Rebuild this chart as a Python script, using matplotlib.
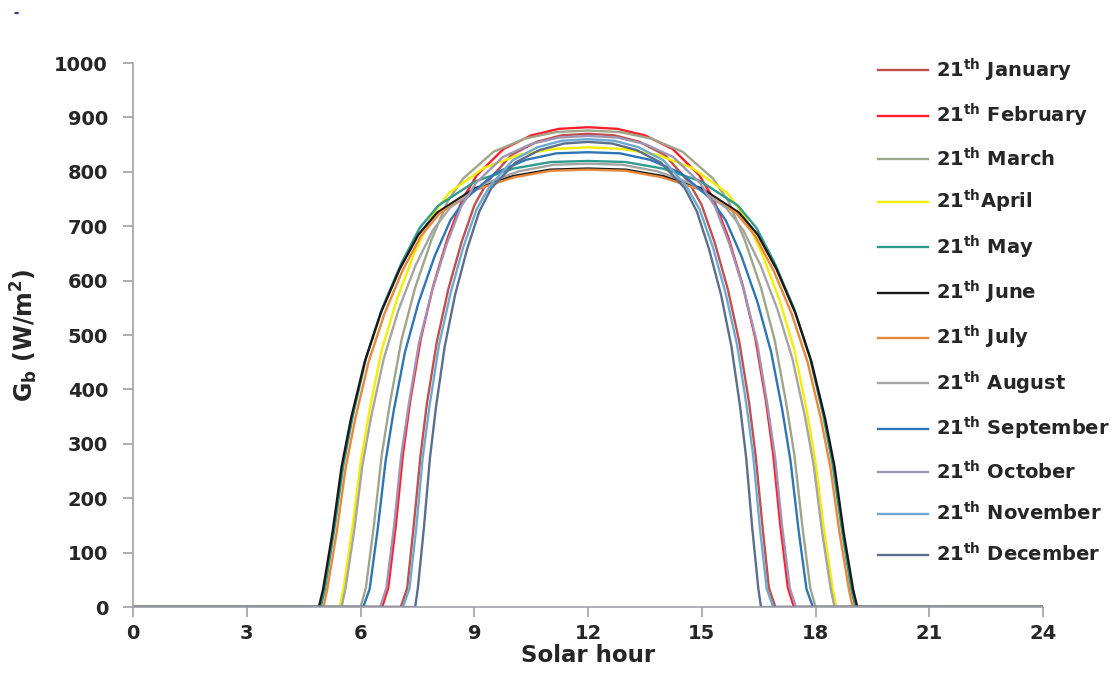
import matplotlib
matplotlib.use('Agg')
import matplotlib.pyplot as plt

# solar hour / beam irradiance, one pair of lists per month
jan_h = [0, 7.06, 7.23, 7.40, 7.58, 7.75, 8.01, 8.31, 8.66, 9.01, 9.36, 9.98, 10.64, 11.30, 12.0, 12.70, 13.36, 14.02, 14.64, 14.99, 15.34, 15.69, 15.99, 16.25, 16.42, 16.60, 16.77, 16.94, 24]
jan_v = [0, 0, 35, 148, 278, 374, 487, 583, 670, 740, 783, 831, 855, 867, 870, 867, 855, 831, 783, 740, 670, 583, 487, 374, 278, 148, 35, 0, 0]

feb_h = [0, 6.57, 6.73, 6.93, 7.12, 7.31, 7.59, 7.92, 8.30, 8.69, 9.07, 9.77, 10.50, 11.23, 12.0, 12.77, 13.50, 14.23, 14.93, 15.31, 15.70, 16.08, 16.41, 16.69, 16.88, 17.07, 17.27, 17.43, 24]
feb_v = [0, 0, 35, 150, 282, 379, 494, 591, 679, 750, 794, 842, 867, 879, 882, 879, 867, 842, 794, 750, 679, 591, 494, 379, 282, 150, 35, 0, 0]

mar_h = [0, 6.00, 6.14, 6.35, 6.56, 6.78, 7.08, 7.44, 7.87, 8.29, 8.71, 9.51, 10.33, 11.15, 12.0, 12.85, 13.67, 14.49, 15.29, 15.71, 16.13, 16.56, 16.92, 17.22, 17.44, 17.65, 17.86, 18.00, 24]
mar_v = [0, 0, 35, 149, 280, 377, 491, 587, 675, 745, 788, 837, 861, 873, 876, 873, 861, 837, 788, 745, 675, 587, 491, 377, 280, 149, 35, 0, 0]

apr_h = [0, 5.45, 5.55, 5.78, 6.01, 6.24, 6.56, 6.96, 7.42, 7.87, 8.33, 9.25, 10.17, 11.08, 12.0, 12.92, 13.83, 14.75, 15.67, 16.13, 16.58, 17.04, 17.44, 17.76, 17.99, 18.22, 18.45, 18.55, 24]
apr_v = [0, 0, 34, 144, 270, 363, 473, 566, 651, 718, 761, 807, 831, 842, 845, 842, 831, 807, 761, 718, 651, 566, 473, 363, 270, 144, 34, 0, 0]

may_h = [0, 4.95, 5.06, 5.30, 5.55, 5.80, 6.15, 6.57, 7.07, 7.56, 8.05, 9.04, 10.03, 11.01, 12.0, 12.99, 13.97, 14.96, 15.95, 16.44, 16.93, 17.43, 17.85, 18.20, 18.45, 18.70, 18.94, 19.05, 24]
may_v = [0, 0, 33, 139, 262, 353, 459, 549, 631, 697, 738, 783, 806, 818, 820, 818, 806, 783, 738, 697, 631, 549, 459, 353, 262, 139, 33, 0, 0]

jun_h = [0, 4.90, 5.01, 5.26, 5.50, 5.75, 6.11, 6.53, 7.03, 7.53, 8.02, 9.02, 10.01, 11.01, 12.0, 12.99, 13.99, 14.98, 15.98, 16.47, 16.97, 17.47, 17.89, 18.25, 18.50, 18.74, 18.99, 19.10, 24]
jun_v = [0, 0, 32, 137, 258, 347, 451, 540, 621, 685, 725, 770, 792, 804, 806, 804, 792, 770, 725, 685, 621, 540, 451, 347, 258, 137, 32, 0, 0]

jul_h = [0, 5.02, 5.12, 5.37, 5.61, 5.86, 6.21, 6.63, 7.11, 7.60, 8.09, 9.07, 10.05, 11.02, 12.0, 12.98, 13.95, 14.93, 15.91, 16.40, 16.89, 17.37, 17.79, 18.14, 18.39, 18.63, 18.88, 18.98, 24]
jul_v = [0, 0, 32, 137, 257, 346, 450, 539, 619, 683, 724, 768, 790, 802, 804, 802, 790, 768, 724, 683, 619, 539, 450, 346, 257, 137, 32, 0, 0]

aug_h = [0, 5.50, 5.60, 5.83, 6.05, 6.28, 6.61, 7.00, 7.45, 7.91, 8.36, 9.27, 10.18, 11.09, 12.0, 12.91, 13.82, 14.73, 15.64, 16.09, 16.55, 17.00, 17.39, 17.72, 17.95, 18.17, 18.40, 18.50, 24]
aug_v = [0, 0, 33, 139, 261, 350, 456, 546, 628, 693, 734, 778, 801, 813, 815, 813, 801, 778, 734, 693, 628, 546, 456, 350, 261, 139, 33, 0, 0]

sep_h = [0, 6.07, 6.24, 6.45, 6.66, 6.87, 7.17, 7.53, 7.95, 8.37, 8.79, 9.56, 10.36, 11.16, 12.0, 12.84, 13.64, 14.44, 15.21, 15.63, 16.05, 16.47, 16.83, 17.13, 17.34, 17.55, 17.76, 17.93, 24]
sep_v = [0, 0, 33, 142, 268, 359, 468, 560, 644, 711, 752, 798, 822, 834, 836, 834, 822, 798, 752, 711, 644, 560, 468, 359, 268, 142, 33, 0, 0]

oct_h = [0, 6.52, 6.68, 6.88, 7.07, 7.27, 7.54, 7.88, 8.27, 8.65, 9.04, 9.75, 10.49, 11.22, 12.0, 12.78, 13.51, 14.25, 14.96, 15.35, 15.73, 16.12, 16.46, 16.73, 16.93, 17.12, 17.32, 17.48, 24]
oct_v = [0, 0, 35, 147, 277, 372, 485, 580, 667, 736, 779, 827, 851, 863, 866, 863, 851, 827, 779, 736, 667, 580, 485, 372, 277, 147, 35, 0, 0]

nov_h = [0, 7.12, 7.29, 7.47, 7.64, 7.82, 8.07, 8.37, 8.71, 9.06, 9.41, 10.01, 10.66, 11.30, 12.0, 12.70, 13.34, 13.99, 14.59, 14.94, 15.29, 15.63, 15.93, 16.18, 16.36, 16.53, 16.71, 16.88, 24]
nov_v = [0, 0, 34, 146, 275, 370, 482, 576, 662, 731, 774, 821, 845, 857, 860, 857, 845, 821, 774, 731, 662, 576, 482, 370, 275, 146, 34, 0, 0]

dec_h = [0, 7.44, 7.51, 7.67, 7.83, 7.99, 8.22, 8.49, 8.81, 9.13, 9.45, 10.08, 10.72, 11.36, 12.0, 12.64, 13.28, 13.92, 14.55, 14.87, 15.19, 15.51, 15.78, 16.01, 16.17, 16.33, 16.49, 16.56, 24]
dec_v = [0, 0, 34, 145, 274, 368, 479, 573, 658, 727, 770, 817, 840, 852, 855, 852, 840, 817, 770, 727, 658, 573, 479, 368, 274, 145, 34, 0, 0]

months = ['January', 'February', 'March', 'April', 'May', 'June', 'July',
          'August', 'September', 'October', 'November', 'December']
hours = [jan_h, feb_h, mar_h, apr_h, may_h, jun_h, jul_h, aug_h, sep_h, oct_h, nov_h, dec_h]
values = [jan_v, feb_v, mar_v, apr_v, may_v, jun_v, jul_v, aug_v, sep_v, oct_v, nov_v, dec_v]
colors = ['#C0504D', '#FF1F2D', '#9EA68A', '#F5EE00', '#2E9C8C', '#1A1A1A',
          '#E8883A', '#A5A5A5', '#2E75B6', '#A195B5', '#6EA9D2', '#5A6E8E']

x_ticks = [0, 3, 6, 9, 12, 15, 18, 21, 24]
y_ticks = [0, 100, 200, 300, 400, 500, 600, 700, 800, 900, 1000]

plt.rcParams['font.family'] = 'DejaVu Sans'
plt.rcParams['font.weight'] = 'bold'
plt.rcParams['axes.labelweight'] = 'bold'
plt.rcParams['mathtext.default'] = 'bf'
txt = '#262626'
axc = '#A0A0A8'

fig = plt.figure(figsize=(11.18, 6.88), dpi=100)
ax = fig.add_axes([0.119, 0.1177, 0.814, 0.7907])

for h, v, c, m in zip(hours, values, colors, months):
    sep = '' if m == 'April' else ' '
    ax.plot(h, v, color=c, lw=1.7, label='21$^{th}$' + sep + m)

ax.set_xlim(0, 24)
ax.set_ylim(0, 1000)
ax.set_xticks(x_ticks)
ax.set_yticks(y_ticks)
ax.tick_params(axis='both', colors=axc, labelcolor=txt, labelsize=14,
               length=7, width=1.2, direction='out')
ax.tick_params(axis='y', pad=11)
ax.tick_params(axis='x', pad=5)
for s in ['top', 'right']:
    ax.spines[s].set_visible(False)
for s in ['left', 'bottom']:
    ax.spines[s].set_color(axc)
    ax.spines[s].set_linewidth(1.2)

ax.set_xlabel('Solar hour', fontsize=16.5, color=txt, labelpad=1)
ax.set_ylabel('G$_b$ (W/m$^2$)', fontsize=17, color=txt, labelpad=10)

fig.legend(loc='upper left', bbox_to_anchor=(0.785, 0.918), frameon=False,
           fontsize=14, handlelength=2.6, handletextpad=0.4, labelspacing=0.93,
           borderpad=0, borderaxespad=0, labelcolor=txt)

fig.text(0.012, 0.978, '▬', fontsize=4, color='#2B4A80')

fig.savefig('out.png', dpi=100)
